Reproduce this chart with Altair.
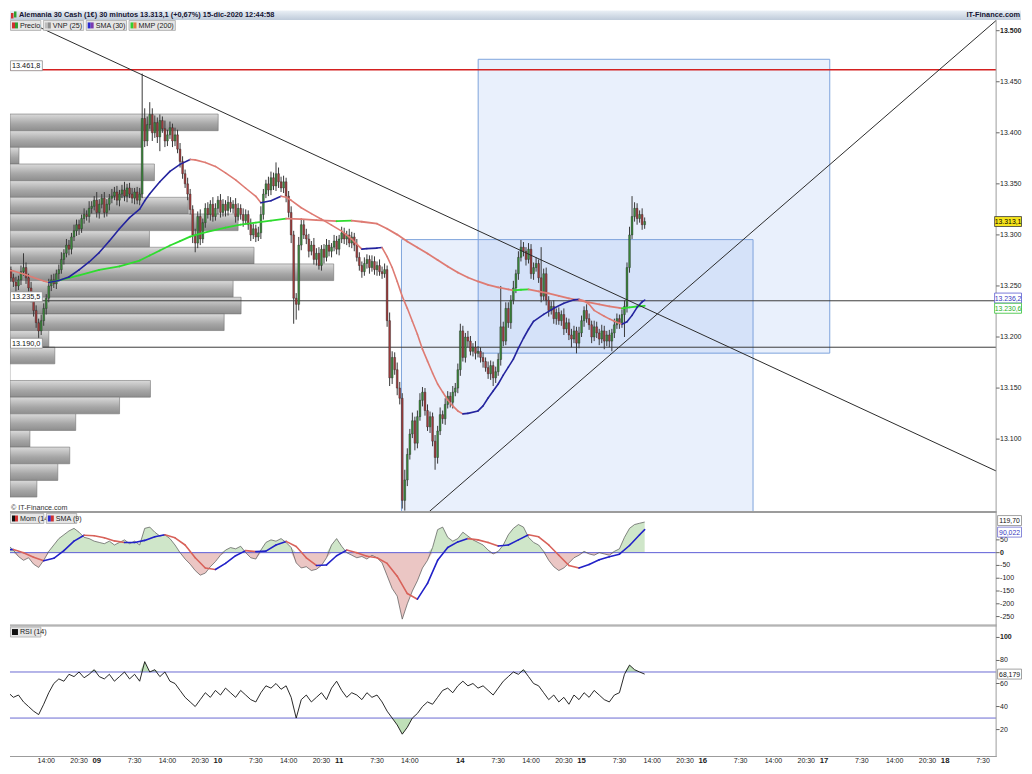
import json
import numpy as np
import pandas as pd
import altair as alt

FONT = "Liberation Sans"

# ---------------- chart values ----------------
title_text = "Alemania 30 Cash (1€) 30 minutos 13.313,1 (+0,67%) 15-dic-2020 12:44:58"
brand_text = "IT-Finance.com"

bar_t0 = 5.5      # first 30-min bar, hours after 08-dic 00:00 (weekend removed)
bar_step = 0.5
open_first = 13272

close = [
    13268, 13262, 13266, 13258, 13254, 13250, 13256, 13264, 13268, 13258,
    13248, 13238, 13226, 13214, 13206, 13216, 13228, 13238, 13250, 13256,
    13252, 13262, 13266, 13276, 13282, 13290, 13286, 13298, 13304, 13310,
    13306, 13316, 13320, 13318, 13326, 13328, 13334, 13322, 13330, 13336,
    13322, 13330, 13336, 13338, 13342, 13334, 13340, 13344, 13338, 13346,
    13340, 13336, 13342, 13334, 13340, 13414, 13392, 13408, 13418, 13400,
    13410, 13396, 13412, 13404, 13392, 13398, 13405, 13392, 13398, 13384,
    13372, 13360, 13350, 13340, 13325, 13300, 13292, 13318, 13296, 13312,
    13326, 13320, 13330, 13318, 13326, 13334, 13322, 13330, 13324, 13332,
    13326, 13330, 13318, 13326, 13320, 13314, 13320, 13310, 13300, 13306,
    13298, 13302, 13320, 13340, 13350, 13344, 13356, 13348, 13360, 13352,
    13346, 13352, 13338, 13322, 13300, 13238, 13232, 13290, 13310, 13300,
    13296, 13284, 13290, 13276, 13282, 13270, 13286, 13278, 13290, 13284,
    13288, 13294, 13286, 13296, 13302, 13296, 13300, 13292, 13298, 13290,
    13278, 13270, 13264, 13272, 13276, 13268, 13274, 13266, 13270, 13264,
    13262, 13266, 13216, 13160, 13180, 13168, 13150, 13140, 13040, 13060,
    13085, 13105, 13118, 13096, 13122, 13138, 13146, 13128, 13112, 13122,
    13098, 13082, 13108, 13124, 13120, 13134, 13142, 13136, 13146, 13150,
    13168, 13206, 13180, 13200, 13196, 13186, 13190, 13184, 13186, 13180,
    13176, 13170, 13164, 13172, 13160, 13166, 13178, 13210, 13196, 13228,
    13214, 13236, 13248, 13262, 13278, 13288, 13284, 13276, 13286, 13262,
    13268, 13272, 13258, 13240, 13262, 13236, 13226, 13230, 13218, 13224,
    13216, 13222, 13208, 13214, 13202, 13198, 13206, 13194, 13204, 13216,
    13226, 13218, 13212, 13200, 13210, 13204, 13198, 13206, 13196, 13202,
    13196, 13204, 13212, 13218, 13214, 13222, 13230, 13268, 13300, 13318,
    13326, 13316, 13320, 13310, 13313.1,
]
wick_up = [
    5, 4, 6, 3, 4, 5, 4, 6, 14, 5,   4, 6, 3, 5, 4, 6, 5, 4, 7, 5,
    6, 4, 5, 7, 4, 6, 5, 4, 6, 5,    5, 4, 6, 4, 7, 5, 4, 8, 5, 4,
    6, 5, 4, 7, 5, 6, 4, 5, 8, 4,    5, 6, 4, 5, 6, 44, 10, 8, 12, 6,
    7, 5, 6, 4, 8, 5, 6, 4, 7, 5,    6, 5, 4, 6, 5, 4, 6, 5, 7, 4,
    5, 6, 4, 7, 5, 4, 6, 5, 4, 6,    5, 4, 6, 5, 4, 6, 5, 4, 6, 5,
    4, 6, 8, 5, 4, 7, 6, 5, 11, 6,   5, 6, 4, 5, 6, 4, 5, 8, 6, 5,
    6, 5, 4, 7, 5, 6, 4, 5, 6, 5,    4, 6, 5, 4, 6, 5, 4, 6, 5, 4,
    6, 5, 4, 6, 5, 4, 6, 5, 4, 6,    5, 6, 4, 8, 6, 5, 7, 6, 5, 10,
    6, 5, 8, 4, 6, 7, 5, 4, 6, 5,    4, 6, 5, 7, 4, 6, 5, 4, 6, 5,
    6, 7, 5, 4, 6, 5, 4, 6, 5, 4,    5, 4, 6, 5, 4, 5, 6, 40, 5, 6,
    6, 5, 7, 4, 6, 7, 5, 4, 6, 5,    5, 6, 4, 30, 5, 6, 4, 5, 6, 4,
    5, 4, 6, 5, 4, 6, 5, 4, 6, 5,    4, 6, 5, 4, 6, 5, 4, 6, 5, 4,
    5, 4, 6, 5, 4, 5, 6, 5, 8, 20,   6, 5, 4, 6, 4,
]
wick_dn = [
    4, 5, 6, 4, 5, 6, 4, 5, 4, 6,    5, 4, 6, 5, 9, 4, 5, 6, 4, 5,
    4, 5, 6, 4, 5, 4, 6, 5, 4, 5,    6, 4, 5, 4, 6, 5, 4, 5, 6, 4,
    5, 4, 6, 5, 4, 5, 6, 4, 5, 6,    4, 5, 6, 4, 5, 4, 6, 5, 4, 8,
    5, 6, 14, 4, 6, 5, 4, 6, 5, 4,   6, 5, 4, 6, 5, 8, 9, 5, 6, 4,
    5, 4, 6, 5, 4, 6, 5, 4, 6, 5,    4, 5, 6, 4, 5, 6, 4, 5, 6, 4,
    5, 4, 6, 5, 4, 6, 5, 4, 5, 6,    4, 5, 6, 5, 8, 25, 15, 6, 5, 4,
    5, 6, 4, 5, 6, 4, 5, 6, 4, 5,    6, 4, 5, 6, 4, 5, 6, 4, 5, 6,
    4, 5, 6, 4, 5, 6, 4, 5, 6, 4,    5, 4, 6, 8, 6, 5, 7, 6, 8, 10,
    6, 5, 4, 7, 5, 4, 6, 5, 4, 6,    5, 12, 6, 4, 5, 6, 4, 5, 6, 4,
    5, 6, 4, 5, 6, 4, 5, 6, 4, 5,    6, 4, 5, 6, 8, 5, 4, 6, 5, 4,
    5, 6, 4, 5, 6, 4, 5, 6, 4, 5,    6, 4, 5, 6, 4, 5, 6, 4, 5, 6,
    4, 5, 6, 4, 5, 8, 4, 10, 5, 4,   6, 4, 5, 6, 4, 5, 6, 4, 8, 5,
    6, 10, 5, 4, 6, 5, 22, 6, 5, 4,  5, 6, 4, 5, 4,
]

# SMA (30) of price, read at selected bar indices
sma30_k = [0, 4, 8, 12, 16, 18, 22, 26, 30, 34, 38, 42, 46, 50, 54, 56, 58, 62, 66, 70,
           74, 76, 80, 84, 88, 92, 96, 100, 102, 106, 110, 112, 114, 118, 122, 126, 130, 134, 138, 142,
           144, 148, 150, 152, 154, 156, 158, 160, 162, 164, 166, 168, 170, 172, 174, 176, 178, 180, 182, 184,
           188, 190, 192, 194, 196, 198, 200, 202, 204, 206, 208, 210, 214, 218, 222, 226, 228, 230, 232, 234,
           236, 238, 240, 242, 244, 245, 247, 249, 251, 253, 254]
sma30_v = [13266.1, 13264.7, 13261.7, 13258.3, 13254.9, 13253.4, 13255.4, 13258.8, 13265.7, 13273.5,
           13282.7, 13294.0, 13306.1, 13316.9, 13325.2, 13333.4, 13340.3, 13352.0, 13362.2, 13369.1,
           13373.9, 13373.5, 13371.0, 13367.1, 13360.8, 13353.9, 13345.7, 13337.8, 13331.5, 13333.5,
           13337.8, 13336.8, 13333.9, 13326.6, 13320.8, 13315.4, 13309.6, 13303.7, 13295.9, 13286.1,
           13286.6, 13287.1, 13287.6, 13278.8, 13268.1, 13254.4, 13239.8, 13228.1, 13215.4, 13202.7,
           13188.1, 13176.4, 13164.7, 13154.0, 13146.1, 13138.3, 13132.5, 13127.6, 13124.7, 13125.2,
           13127.6, 13132.5, 13140.3, 13147.1, 13154.0, 13162.7, 13170.5, 13178.3, 13189.1, 13198.8,
           13207.6, 13215.4, 13222.2, 13228.1, 13233.0, 13236.4, 13236.9, 13235.4, 13232.0, 13226.1,
           13223.2, 13220.3, 13217.8, 13215.4, 13213.5, 13212.5, 13214.9, 13221.2, 13229.1, 13234.4,
           13236.2]

# MMP (200)
mmp200_k = [18, 22, 30, 38, 46, 54, 58, 62, 66, 70, 74, 78, 82, 88, 94, 100, 106, 112, 118, 124,
            132, 138, 142, 148, 152, 156, 160, 164, 168, 172, 176, 180, 184, 188, 192, 196, 200, 202, 205, 208,
            212, 216, 220, 224, 228, 232, 236, 240, 244, 245, 248, 251, 254]
mmp200_v = [13253.4, 13255.4, 13260.3, 13265.7, 13269.1, 13274.9, 13279.8, 13284.7, 13289.6, 13293.9,
            13298.3, 13301.3, 13303.7, 13307.1, 13310.0, 13312.0, 13313.9, 13315.9, 13315.4, 13314.4,
            13313.4, 13313.9, 13312.9, 13311.0, 13306.1, 13300.3, 13293.5, 13287.6, 13281.7, 13275.4,
            13269.1, 13263.2, 13258.3, 13254.4, 13251.0, 13248.6, 13246.6, 13245.7, 13246.3, 13246.6,
            13244.7, 13242.7, 13240.3, 13237.9, 13235.9, 13234.0, 13232.0, 13230.0, 13228.6, 13228.1,
            13229.1, 13229.9, 13230.6]

# VNP (25) volume profile
vnp_top = 13451.0
vnp_step = 16.31
vnp_vol = [0, 0, 217, 140, 17, 153, 140, 187, 237, 148, 253, 333, 232, 240, 223,
           47, 53, 3, 149, 118, 74, 28, 68, 56, 35]

# drawn objects
levels = [13461.8, 13235.5, 13190.0]
level_labels = ["13.461,8", "13.235,5", "13.190,0"]
level_kind = ["res", "sup", "sup"]
trend_t1 = [12.74, 89.86]
trend_p1 = [13503.2, 13029.1]
trend_t2 = [202.09, 202.09]
trend_p2 = [13068.8, 13510.0]
box_t1 = [99.53, 84.34]
box_t2 = [169.15, 153.96]
box_p1 = [13184.2, 13020.0]
box_p2 = [13472.0, 13295.4]

# indicators, one value per hour (every 2 bars)
ind_t0 = 5.5
ind_step = 1.0
mom14 = [
    20, 28, 10, -15, -30, -20, -45, -58, -30, 5,
    30, 55, 70, 85, 95, 80, 60, 55, 45, 40,
    35, 45, 30, 40, 50, 35, 45, 30, 95, 100,
    80, 65, 70, 55, 30, 0, -25, -45, -70, -88,
    -80, -55, -35, -10, 10, 20, 15, 25, 0, -20,
    -25, 10, 40, 50, 45, 55, 40, 20, -40, -60,
    -55, -70, -65, -50, -20, 30, 55, 25, 0, -10,
    -20, -15, -25, -10, -20, -40, -90, -140, -170, -260,
    -200, -150, -110, -60, -30, 20, 90, 100, 60, 45,
    55, 80, 65, 50, 40, 30, 10, -5, 5, 30,
    70, 95, 110, 100, 60, 40, 30, 5, -30, -55,
    -70, -60, -40, -20, -10, 5, -5, -10, 0, -5,
    -10, 5, 15, 60, 95, 110, 115, 119.7,
]
sma9_v = [12, 12, 0, -18, -32, -22, 8, 45, 68, 66, 58, 46, 40, 40, 48, 62, 70, 58, 30, -20,
          -60, -66, -42, -12, 8, 4, 6, 30, 44, 24, -20, -50, -48, -12, 10, 0, -14, -20, -42, -92,
          -160, -182, -120, -30, 20, 42, 55, 50, 40, 26, 30, 50, 70, 62, 30, -10, -50, -60, -46, -28,
          -16, -6, 28, 70, 90.022]
sma9_j = list(range(0, 127, 2)) + [127]
rsi14 = [
    55, 52, 48, 50, 44, 40, 36, 33, 42, 52,
    60, 64, 62, 68, 66, 70, 65, 68, 72, 66,
    64, 68, 62, 66, 70, 64, 68, 62, 79, 70,
    72, 66, 70, 62, 60, 54, 48, 44, 40, 46,
    52, 48, 54, 50, 56, 52, 48, 54, 50, 46,
    44, 52, 58, 56, 60, 55, 58, 48, 30, 46,
    50, 44, 48, 52, 46, 56, 62, 54, 48, 52,
    50, 46, 52, 48, 50, 44, 36, 30, 24, 16,
    22, 30, 34, 40, 44, 42, 48, 54, 56, 52,
    58, 62, 58, 60, 56, 58, 54, 50, 56, 62,
    66, 70, 68, 72, 66, 60, 58, 52, 46, 50,
    44, 48, 42, 50, 46, 52, 48, 54, 50, 46,
    44, 50, 52, 68, 76, 72, 70, 68.179,
]
rsi_levels = [70, 30]

# tick labels
price_tick_v = [13100, 13150, 13200, 13250, 13300, 13350, 13400, 13450, 13500]
price_tick_lbl = ["13.100", "13.150", "13.200", "13.250", "13.300", "13.350", "13.400", "13.450", "13.500"]
mom_tick_v = [-250, -200, -150, -100, -50, 0, 50]
mom_tick_lbl = ["-250", "-200", "-150", "-100", "-50", "0", "50"]
rsi_tick_v = [20, 40, 60, 80, 100]
rsi_tick_lbl = ["20", "40", "60", "80", "100"]
x_tick_t = [14, 20.5, 24, 31.5, 38, 44.5, 48, 55.5, 62, 68.5, 72, 79.5, 86, 96, 103.5, 110, 116.5,
            120, 127.5, 134, 140.5, 144, 151.5, 158, 164.5, 168, 175.5, 182, 188.5, 192, 199.5]
x_tick_lbl = ["14:00", "20:30", "09", "7:30", "14:00", "20:30", "10", "7:30", "14:00", "20:30", "11",
              "7:30", "14:00", "14", "7:30", "14:00", "20:30", "15", "7:30", "14:00", "20:30", "16",
              "7:30", "14:00", "20:30", "17", "7:30", "14:00", "20:30", "18", "7:30"]
x_day_t = [24, 48, 72, 96, 120, 144, 168, 192]

# ---------------- layout ----------------
W = 990
H_PRICE, H_MOM, H_RSI = 503, 113, 131
X_DOMAIN = [6.8245, 202.09]
P_DOMAIN = [13029.1, 13519.8]
M_DOMAIN = [-283.2, 157.0]
R_DOMAIN = [-3.42, 109.89]
RIGHT_EDGE = 1015

C_UP_MA = "#24249e"
C_DN_MA = "#de7b73"
BORDER = "#9c9c9c"
TXT = "#1a1a1a"

xs = alt.Scale(domain=X_DOMAIN, nice=False, zero=False)


def X(f):
    return alt.X(f"{f}:Q", scale=xs, axis=None)


def Yd(f, dom):
    return alt.Y(f"{f}:Q", scale=alt.Scale(domain=dom, nice=False, zero=False), axis=None)


ONE = pd.DataFrame({"one": [1]})


def prect(x1, x2, y1, y2, **kw):
    return alt.Chart(ONE).mark_rect(**kw).encode(
        x=alt.value(x1), x2=alt.value(x2), y=alt.value(y1), y2=alt.value(y2))


def ptext(x, y, s, **kw):
    base = dict(font=FONT, fontSize=7.3, color=TXT, align="left", baseline="middle")
    base.update(kw)
    return alt.Chart(ONE).mark_text(text=s, **base).encode(x=alt.value(x), y=alt.value(y))


def legend_item(x0, y0, label, c1, c2, w):
    return [
        prect(x0 + 0.5, x0 + w, y0, y0 + 10, fill="#e6e6e6", stroke="#a8a8a8", strokeWidth=0.8),
        prect(x0 + 2, x0 + 5, y0 + 2, y0 + 8, fill=c1),
        prect(x0 + 5, x0 + 8, y0 + 2, y0 + 8, fill=c2),
        ptext(x0 + 10, y0 + 5.2, label, fontSize=7.2),
    ]


def borders(h, top=False):
    out = [prect(W - 0.5, W + 0.5, -0.5 if top else 0, h + 0.5, fill=BORDER),
           prect(0, W + 0.5, h - 0.5, h + 0.5, fill=BORDER)]
    if top:
        out.append(prect(0, W + 0.5, -0.5, 0.5, fill=BORDER))
    return out


def y_ticks(vals, lbls, bold_v, dom):
    df = pd.DataFrame({"v": vals, "lbl": lbls})
    df["b"] = df["v"] == bold_v
    ticks = alt.Chart(df).mark_rule(color="#666666", strokeWidth=1).encode(
        x=alt.value(W), x2=alt.value(W + 3.5), y=Yd("v", dom))
    out = [ticks]
    for flag, wt in ((False, "normal"), (True, "bold")):
        out.append(alt.Chart(df).transform_filter("datum.b" if flag else "!datum.b").mark_text(
            font=FONT, fontSize=7, fontWeight=wt, color=TXT, align="left", baseline="middle").encode(
            x=alt.value(W + 4), y=Yd("v", dom), text="lbl:N"))
    return out


def box_shape(halfw):
    return f"M-{halfw},-0.5H{halfw}V0.5H-{halfw}Z"


def tag(v, text, dom, xc, halfw, fill, stroke, tcolor, dy=0, fs=6.9):
    d = pd.DataFrame({"v": [v], "lbl": [text]})
    box = alt.Chart(d).mark_point(shape=box_shape(halfw), size=400, filled=True, fill=fill,
                                  stroke=stroke, strokeWidth=0.8, opacity=1, yOffset=dy).encode(
        x=alt.value(xc), y=Yd("v", dom))
    txt = alt.Chart(d).mark_text(font=FONT, fontSize=fs, color=tcolor, align="center",
                                 baseline="middle", yOffset=dy + 0.5).encode(
        x=alt.value(xc), y=Yd("v", dom), text="lbl:N")
    return [box, txt]


def segments(ts, vs):
    ts = np.asarray(ts, float)
    vs = np.asarray(vs, float)
    df = pd.DataFrame(dict(t0=ts[:-1], t1=ts[1:], v0=vs[:-1], v1=vs[1:]))
    df["dir"] = np.where(df.v1 >= df.v0, "up", "down")
    return df


def seg_layer(df, dom, c_up, c_dn, sw):
    return alt.Chart(df).mark_rule(strokeWidth=sw, strokeCap="round", clip=True).encode(
        x=X("t0"), x2="t1", y=Yd("v0", dom), y2="v1",
        color=alt.Color("dir:N", scale=alt.Scale(domain=["up", "down"], range=[c_up, c_dn]),
                        legend=None))


# ---------------- price panel ----------------
n = min(len(close), len(wick_up), len(wick_dn))
cls = np.array(close[:n], float)
opn = np.array([open_first] + close[:n - 1], float)
tt = bar_t0 + bar_step * np.arange(n)
candles = pd.DataFrame(dict(t=tt, o=opn, c=cls))
candles["top"] = np.maximum(opn, cls)
candles["bot"] = np.minimum(opn, cls)
candles["h"] = candles["top"] + np.array(wick_up[:n])
candles["l"] = candles["bot"] - np.array(wick_dn[:n])
candles["dir"] = np.where(cls >= opn, "up", "down")
candles["tl"] = tt - 0.18
candles["tr"] = tt + 0.18

vnp = pd.DataFrame({"vol": vnp_vol})
vnp["hi"] = vnp_top - vnp_step * np.arange(len(vnp_vol))
vnp["lo"] = vnp["hi"] - vnp_step
vnp = vnp[vnp.vol > 0]
grad = alt.Gradient(gradient="linear",
                    stops=[alt.GradientStop(color="#dadada", offset=0),
                           alt.GradientStop(color="#a6a6a6", offset=0.6),
                           alt.GradientStop(color="#8e8e8e", offset=1)],
                    x1=0, x2=0, y1=0, y2=1)
vol_chart = alt.Chart(vnp).mark_bar(fill=grad, stroke="#747474", strokeWidth=0.6, clip=True).encode(
    x=alt.X("vol:Q", scale=alt.Scale(domain=[8, 998], nice=False, zero=False), axis=None),
    x2=alt.value(0), y=Yd("lo", P_DOMAIN), y2="hi")

boxes = pd.DataFrame(dict(t1=box_t1, t2=box_t2, p1=box_p1, p2=box_p2))
box_chart = alt.Chart(boxes).mark_rect(fill="#4a86e8", fillOpacity=0.12, stroke="#7ea3dc",
                                       strokeWidth=1, clip=True).encode(
    x=X("t1"), x2="t2", y=Yd("p1", P_DOMAIN), y2="p2")

lv = pd.DataFrame(dict(p=levels, lbl=level_labels, kind=level_kind))
level_rule = alt.Chart(lv).mark_rule(clip=True).encode(
    y=Yd("p", P_DOMAIN),
    color=alt.Color("kind:N", scale=alt.Scale(domain=["res", "sup"], range=["#d42020", "#3a3a3a"]),
                    legend=None),
    strokeWidth=alt.StrokeWidth("kind:N", scale=alt.Scale(domain=["res", "sup"], range=[1.6, 1.0]),
                                legend=None))
level_box = alt.Chart(lv).mark_point(shape=box_shape(1.6), size=400, filled=True, fill="#ffffff",
                                     stroke="#8c8c8c", strokeWidth=0.8, opacity=1, yOffset=-4).encode(
    x=alt.value(16.5), y=Yd("p", P_DOMAIN))
level_txt = alt.Chart(lv).mark_text(font=FONT, fontSize=7.3, color="#111111", align="left",
                                    baseline="middle", yOffset=-3.5).encode(
    x=alt.value(2), y=Yd("p", P_DOMAIN), text="lbl:N")

trend = pd.DataFrame(dict(t1=trend_t1, p1=trend_p1, t2=trend_t2, p2=trend_p2))
trend_chart = alt.Chart(trend).mark_rule(color="#2a2a2a", strokeWidth=1, clip=True).encode(
    x=X("t1"), x2="t2", y=Yd("p1", P_DOMAIN), y2="p2")

wick = alt.Chart(candles).mark_rule(color="#383838", strokeWidth=1, clip=True).encode(
    x=X("t"), y=Yd("l", P_DOMAIN), y2="h")
body = alt.Chart(candles).mark_bar(stroke="#2a2a2a", strokeWidth=0.4, clip=True).encode(
    x=X("tl"), x2="tr", y=Yd("bot", P_DOMAIN), y2="top",
    color=alt.Color("dir:N", scale=alt.Scale(domain=["up", "down"], range=["#3b8a3b", "#a33c3c"]),
                    legend=None))

mmp_chart = seg_layer(segments(bar_t0 + bar_step * np.asarray(mmp200_k, float), mmp200_v),
                      P_DOMAIN, "#2fdc2f", C_DN_MA, 1.8)
sma_chart = seg_layer(segments(bar_t0 + bar_step * np.asarray(sma30_k, float), sma30_v),
                      P_DOMAIN, C_UP_MA, C_DN_MA, 1.6)

price_layers = [box_chart, level_rule, wick, body, mmp_chart, sma_chart, trend_chart,
                level_box, level_txt]
price_layers += borders(H_PRICE)
price_layers += y_ticks(price_tick_v, price_tick_lbl, 13500, P_DOMAIN)
price_layers += tag(cls[-1], "13.313,1", P_DOMAIN, 1002, 1.35, "#f6e41c", "#3a3a3a", "#000000")
price_layers += tag(sma30_v[-1], "13.236,2", P_DOMAIN, 1002, 1.35, "#ffffff", "#5a5ad0", "#3434c0", -2)
price_layers += tag(mmp200_v[-1], "13.230,6", P_DOMAIN, 1002, 1.35, "#ffffff", "#33c033", "#1fae1f", 2.5)

header_grad = alt.Gradient(gradient="linear",
                           stops=[alt.GradientStop(color="#eaf0f6", offset=0),
                                  alt.GradientStop(color="#bfcbda", offset=1)],
                           x1=0, x2=0, y1=0, y2=1)
price_layers += [
    prect(0, RIGHT_EDGE, 0, 9.5, fill=header_grad),
    prect(1, 3.5, 2.5, 8, fill="#d03030"),
    prect(4, 6.5, 1, 7, fill="#2f9e2f"),
    ptext(9, 5, title_text, fontSize=7.4, fontWeight="bold", color="#141432"),
    ptext(RIGHT_EDGE - 1, 5, brand_text, fontSize=7.4, fontWeight="bold", color="#141432",
          align="right"),
    ptext(1, 499, "© IT-Finance.com", fontSize=7.2, color="#333333"),
]
price_layers += legend_item(0, 10, "Precio", "#d03030", "#2f9e2f", 31)
price_layers += legend_item(33, 10, "VNP (25)", "#bdbdbd", "#8e8e8e", 41)
price_layers += legend_item(76, 10, "SMA (30)", "#2a2ad0", "#7a3ab0", 41)
price_layers += legend_item(119, 10, "MMP (200)", "#30d030", "#e08040", 47)

price_inner = alt.layer(*price_layers).resolve_scale(color="independent", strokeWidth="independent")
price = alt.layer(vol_chart, price_inner).resolve_scale(
    x="independent", color="independent").properties(width=W, height=H_PRICE)

# ---------------- momentum panel ----------------
mom_df = pd.DataFrame({"t": ind_t0 + ind_step * np.arange(len(mom14)), "m": mom14})
mom_df["pos"] = np.maximum(mom_df.m, 0)
mom_df["neg"] = np.minimum(mom_df.m, 0)
mom_df["zero"] = 0.0

zero_df = pd.DataFrame({"v": [0.0]})
mom_zero = alt.Chart(zero_df).mark_rule(color="#5c5cd6", strokeWidth=1).encode(y=Yd("v", M_DOMAIN))
mom_pos = alt.Chart(mom_df).mark_area(color="#cfe6c9", opacity=1, clip=True).encode(
    x=X("t"), y=Yd("pos", M_DOMAIN), y2="zero")
mom_neg = alt.Chart(mom_df).mark_area(color="#ebc6c4", opacity=1, clip=True).encode(
    x=X("t"), y=Yd("neg", M_DOMAIN), y2="zero")
mom_line = alt.Chart(mom_df).mark_line(color="#555555", strokeWidth=0.7, clip=True).encode(
    x=X("t"), y=Yd("m", M_DOMAIN))
sma9_chart = seg_layer(segments(ind_t0 + ind_step * np.asarray(sma9_j, float), sma9_v),
                       M_DOMAIN, "#2222c8", "#d8625a", 1.6)

mom_layers = [mom_pos, mom_neg, mom_zero, mom_line, sma9_chart]
mom_layers += borders(H_MOM, top=True)
mom_layers += y_ticks(mom_tick_v, mom_tick_lbl, 0, M_DOMAIN)
mom_layers += tag(mom14[-1], "119,70", M_DOMAIN, 1003.5, 1.2, "#ffffff", "#8a8a8a", "#111111", -1.5)
mom_layers += tag(sma9_v[-1], "90,022", M_DOMAIN, 1003.5, 1.2, "#ffffff", "#6a6ad0", "#3434c0", 2.5)
mom_layers += legend_item(0, 1, "Mom (14)", "#111111", "#d03030", 34)
mom_layers += legend_item(36, 1, "SMA (9)", "#2a2ad0", "#d03030", 31)
mom = alt.layer(*mom_layers).resolve_scale(color="independent").properties(width=W, height=H_MOM)

# ---------------- RSI panel ----------------
rsi_df = pd.DataFrame({"t": ind_t0 + ind_step * np.arange(len(rsi14)), "r": rsi14})
rsi_df["hi"] = np.maximum(rsi_df.r, rsi_levels[0])
rsi_df["lo"] = np.minimum(rsi_df.r, rsi_levels[1])
rsi_df["l70"] = float(rsi_levels[0])
rsi_df["l30"] = float(rsi_levels[1])

rl = pd.DataFrame({"v": rsi_levels})
rsi_lev = alt.Chart(rl).mark_rule(color="#6a6ad2", strokeWidth=1).encode(y=Yd("v", R_DOMAIN))
rsi_hi = alt.Chart(rsi_df).mark_area(color="#bfe0b8", opacity=1, clip=True).encode(
    x=X("t"), y=Yd("hi", R_DOMAIN), y2="l70")
rsi_lo = alt.Chart(rsi_df).mark_area(color="#bfe0b8", opacity=1, clip=True).encode(
    x=X("t"), y=Yd("lo", R_DOMAIN), y2="l30")
rsi_line = alt.Chart(rsi_df).mark_line(color="#111111", strokeWidth=0.9, clip=True).encode(
    x=X("t"), y=Yd("r", R_DOMAIN))

xt = pd.DataFrame({"t": x_tick_t, "lbl": x_tick_lbl})
xt["day"] = xt["t"].isin(x_day_t)
x_lbl_norm = alt.Chart(xt).transform_filter("!datum.day").mark_text(
    font=FONT, fontSize=7, color=TXT, align="center", baseline="middle").encode(
    x=X("t"), y=alt.value(H_RSI + 4.5), text="lbl:N")
x_lbl_day = alt.Chart(xt).transform_filter("datum.day").mark_text(
    font=FONT, fontSize=7.8, fontWeight="bold", color=TXT, align="center", baseline="middle").encode(
    x=X("t"), y=alt.value(H_RSI + 4.5), text="lbl:N")

rsi_layers = [rsi_hi, rsi_lo, rsi_lev, rsi_line, x_lbl_norm, x_lbl_day]
rsi_layers += borders(H_RSI, top=True)
rsi_layers += y_ticks(rsi_tick_v, rsi_tick_lbl, 100, R_DOMAIN)
rsi_layers += tag(rsi14[-1], "68,179", R_DOMAIN, 1003.5, 1.2, "#ffffff", "#8a8a8a", "#111111")
rsi_layers += legend_item(0, 1, "RSI (14)", "#111111", "#111111", 31)
rsi = alt.layer(*rsi_layers).properties(width=W, height=H_RSI)

chart = alt.vconcat(price, mom, rsi, spacing=1, bounds="flush").resolve_scale(
    color="independent", strokeWidth="independent"
).properties(padding=0, background="white").configure_view(stroke="transparent")

chart.save("out.html", embed_options={"renderer": "svg", "actions": False})
